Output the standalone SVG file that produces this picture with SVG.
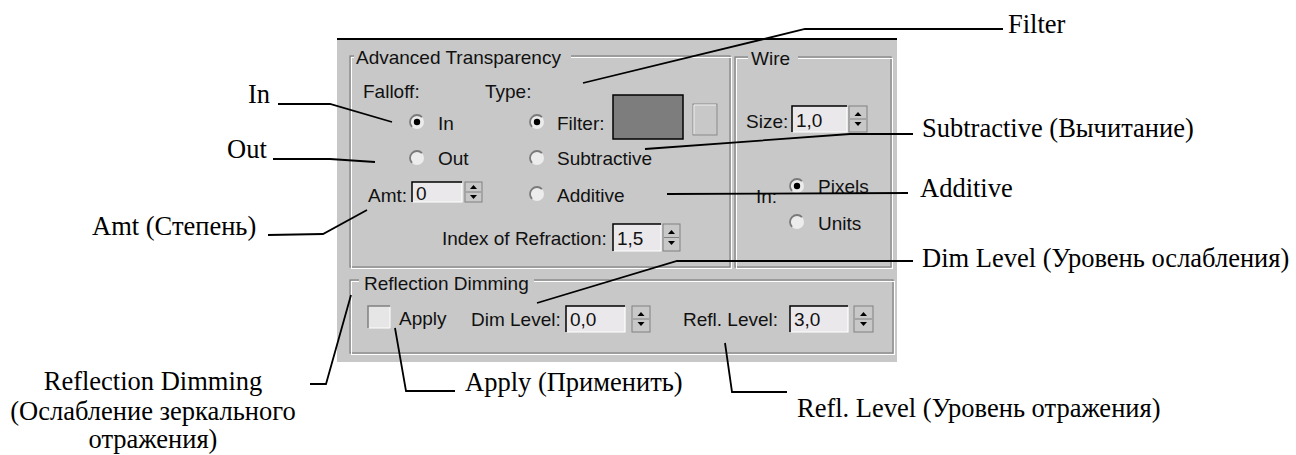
<svg xmlns="http://www.w3.org/2000/svg" xmlns:xlink="http://www.w3.org/1999/xlink" width="1296" height="455" viewBox="0 0 1296 455">
<style>
.lbl{font-family:"Liberation Serif","Times New Roman",serif;font-size:26.5px;fill:#000}
.ui{font-family:"Liberation Sans",Arial,sans-serif;font-size:19px;fill:#111}
.lead{fill:none;stroke:#000;stroke-width:1.8}
.gd{fill:none;stroke:#808080;stroke-width:1.2}
.gl{fill:none;stroke:#fff;stroke-width:1}
.edit{fill:#ebe8eb}
.ed1{fill:none;stroke:#000;stroke-width:1.5}
.ed2{fill:none;stroke:#fff;stroke-width:1.2}
.btn{fill:#c8c8c8;stroke:#808080;stroke-width:1}
.tri{fill:#000}
.cover{fill:#c8c8c8}
</style>
<defs>
<g id="radio">
<circle r="7" fill="#ececec"/>
<path d="M-4.95,4.95 A7,7 0 0 1 4.95,-4.95" fill="none" stroke="#7a7a7a" stroke-width="1.8"/>
</g>
<g id="radioOn">
<use href="#radio"/>
<circle r="3.2" fill="#000"/>
</g>
</defs>
<rect width="1296" height="455" fill="#fff"/>

<g id="panel">
<rect x="337" y="38" width="560" height="324" fill="#c8c8c8"/>
<line x1="337" y1="39" x2="897" y2="39" stroke="#000" stroke-width="2"/>

<g id="grp-advanced">
<rect class="gd" x="350" y="56" width="380" height="211"/>
<rect class="gl" x="351.5" y="57.5" width="380" height="211"/>
<rect class="cover" x="354" y="50" width="217" height="12"/>
<text class="ui" x="356" y="64">Advanced Transparency</text>
<text class="ui" x="363" y="98">Falloff:</text>
<text class="ui" x="485" y="98">Type:</text>
<use href="#radioOn" x="417" y="122"/>
<text class="ui" x="438" y="130">In</text>
<use href="#radio" x="417" y="158"/>
<text class="ui" x="438" y="165">Out</text>
<text class="ui" x="368" y="202">Amt:</text>
<g id="spin-amt">
<rect class="edit" x="412" y="182" width="50" height="20"/>
<polyline class="ed1" points="412,202 412,182 462,182"/>
<polyline class="ed2" points="413,202 462,202 462,183"/>
<text class="ui" x="416" y="200">0</text>
<rect class="btn" x="465" y="182" width="17" height="20"/>
<line x1="466" y1="192" x2="481" y2="192" stroke="#808080"/>
<polygon class="tri" points="470,189 477,189 473.5,185"/>
<polygon class="tri" points="470,195 477,195 473.5,199"/>
</g>
<use href="#radioOn" x="537" y="122"/>
<text class="ui" x="557" y="130">Filter:</text>
<rect x="613" y="95" width="70" height="44" fill="#7d7d7d" stroke="#000" stroke-width="1.5"/>
<rect x="693" y="104" width="24" height="31" fill="#c8c8c8" stroke="#8a8a8a" stroke-width="1"/>
<polyline points="694,134 694,105 716,105" fill="none" stroke="#eee" stroke-width="1"/>
<use href="#radio" x="537" y="158"/>
<text class="ui" x="557" y="165">Subtractive</text>
<use href="#radio" x="537" y="194"/>
<text class="ui" x="557" y="202">Additive</text>
<text class="ui" x="442" y="245">Index of Refraction:</text>
<g id="spin-ior">
<rect class="edit" x="613" y="224" width="48" height="27"/>
<polyline class="ed1" points="613,251 613,224 661,224"/>
<polyline class="ed2" points="614,251 661,251 661,225"/>
<text class="ui" x="617" y="245">1,5</text>
<rect class="btn" x="663" y="224" width="17" height="27"/>
<line x1="664" y1="237.5" x2="679" y2="237.5" stroke="#808080"/>
<polygon class="tri" points="668,234 675,234 671.5,230"/>
<polygon class="tri" points="668,241 675,241 671.5,245"/>
</g>
</g>

<g id="grp-wire">
<rect class="gd" x="735" y="57" width="156" height="210"/>
<rect class="gl" x="736.5" y="58.5" width="156" height="210"/>
<rect class="cover" x="748" y="50" width="50" height="12"/>
<text class="ui" x="751" y="65">Wire</text>
<text class="ui" x="746" y="128">Size:</text>
<g id="spin-size">
<rect class="edit" x="792" y="106" width="55" height="26"/>
<polyline class="ed1" points="792,132 792,106 847,106"/>
<polyline class="ed2" points="793,132 847,132 847,107"/>
<text class="ui" x="796" y="127">1,0</text>
<rect class="btn" x="849" y="106" width="18" height="26"/>
<line x1="850" y1="119" x2="866" y2="119" stroke="#808080"/>
<polygon class="tri" points="854.5,116 861.5,116 858,112"/>
<polygon class="tri" points="854.5,122 861.5,122 858,126"/>
</g>
<text class="ui" x="756" y="203">In:</text>
<use href="#radioOn" x="797" y="186"/>
<text class="ui" x="818" y="193">Pixels</text>
<use href="#radio" x="797" y="222"/>
<text class="ui" x="818" y="230">Units</text>
</g>

<g id="grp-reflection">
<rect class="gd" x="350" y="280" width="543" height="73"/>
<rect class="gl" x="351.5" y="281.5" width="543" height="73"/>
<rect class="cover" x="359" y="272" width="175" height="12"/>
<text class="ui" x="364" y="290">Reflection Dimming</text>
<rect x="368" y="306" width="22" height="22" fill="#e6e6e6"/>
<polyline points="368,328 368,306 390,306" fill="none" stroke="#808080" stroke-width="1.5"/>
<polyline points="369,328 390,328 390,307" fill="none" stroke="#fff" stroke-width="1"/>
<text class="ui" x="399" y="325">Apply</text>
<text class="ui" x="471" y="326">Dim Level:</text>
<g id="spin-dim">
<rect class="edit" x="566" y="306" width="59" height="26"/>
<polyline class="ed1" points="566,332 566,306 625,306"/>
<polyline class="ed2" points="567,332 625,332 625,307"/>
<text class="ui" x="570" y="326">0,0</text>
<rect class="btn" x="632" y="306" width="18" height="26"/>
<line x1="633" y1="319" x2="649" y2="319" stroke="#808080"/>
<polygon class="tri" points="637.5,316 644.5,316 641,312"/>
<polygon class="tri" points="637.5,322 644.5,322 641,326"/>
</g>
<text class="ui" x="683" y="326">Refl. Level:</text>
<g id="spin-refl">
<rect class="edit" x="790" y="306" width="58" height="26"/>
<polyline class="ed1" points="790,332 790,306 848,306"/>
<polyline class="ed2" points="791,332 848,332 848,307"/>
<text class="ui" x="794" y="326">3,0</text>
<rect class="btn" x="854" y="306" width="19" height="26"/>
<line x1="855" y1="319" x2="872" y2="319" stroke="#808080"/>
<polygon class="tri" points="860,316 867,316 863.5,312"/>
<polygon class="tri" points="860,322 867,322 863.5,326"/>
</g>
</g>
</g>

<g id="connectors">
<polyline class="lead" points="278,104 330,104 392,122"/>
<polyline class="lead" points="273,159 330,159 375,162"/>
<polyline class="lead" points="268,235 323,234 367,210"/>
<polyline class="lead" points="310,384 326,384 351,295"/>
<polyline class="lead" points="395,328 406,391 455,391"/>
<polyline class="lead" points="583,83 805,29 1003,29"/>
<polyline class="lead" points="645,149 850,134 913,134"/>
<polyline class="lead" points="667,194 908,193"/>
<polyline class="lead" points="537,303 677,261 913,261"/>
<polyline class="lead" points="725,343 732,392 787,392"/>
</g>

<g id="label-in"><text class="lbl" x="248" y="103">In</text></g>
<g id="label-out"><text class="lbl" x="227" y="158">Out</text></g>
<g id="label-amt"><text class="lbl" x="92" y="235">Amt (Степень)</text></g>
<g id="label-reflection-dimming">
<text class="lbl" text-anchor="middle" x="153" y="390">Reflection Dimming</text>
<text class="lbl" text-anchor="middle" x="153" y="420">(Ослабление зеркального</text>
<text class="lbl" text-anchor="middle" x="153" y="448">отражения)</text>
</g>
<g id="label-apply"><text class="lbl" x="465" y="391">Apply (Применить)</text></g>
<g id="label-filter"><text class="lbl" x="1008" y="33">Filter</text></g>
<g id="label-subtractive"><text class="lbl" x="922" y="137">Subtractive (Вычитание)</text></g>
<g id="label-additive"><text class="lbl" x="920" y="197">Additive</text></g>
<g id="label-dim"><text class="lbl" x="922" y="267">Dim Level (Уровень ослабления)</text></g>
<g id="label-refl"><text class="lbl" x="797" y="417">Refl. Level (Уровень отражения)</text></g>
</svg>
